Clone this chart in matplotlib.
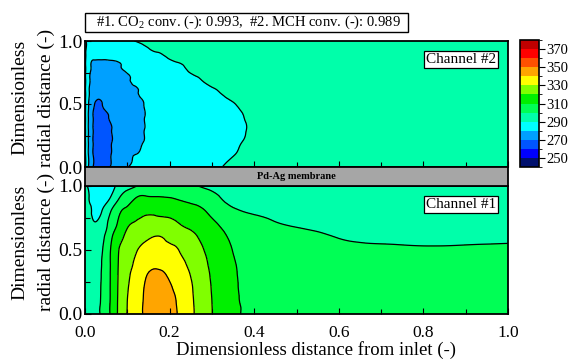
import numpy as np
import matplotlib
matplotlib.use('Agg')
import matplotlib.pyplot as plt
from matplotlib.colors import ListedColormap, BoundaryNorm
from matplotlib.patches import Rectangle
from matplotlib.ticker import MultipleLocator, FixedLocator, FormatStrFormatter
from matplotlib.tri import Triangulation, UniformTriRefiner, CubicTriInterpolator
import matplotlib.cm as cm

plt.rcParams['font.family'] = ['Liberation Serif', 'DejaVu Serif']
plt.rcParams['mathtext.fontset'] = 'custom'
plt.rcParams['mathtext.rm'] = 'Liberation Serif'

# ---------------- data ----------------
x_dist = [0, 0.005, 0.02, 0.04, 0.06, 0.08, 0.10, 0.12, 0.14, 0.17, 0.20,
          0.23, 0.26, 0.30, 0.35, 0.40, 0.50, 0.60, 0.70, 0.80, 0.90, 1.00]
r_dist = [0, 0.1, 0.2, 0.3, 0.4, 0.5, 0.6, 0.7, 0.8, 0.9, 1.0]

# Channel #1 temperature (K): one list per x position, values from r=0 to r=1
temp_ch1 = [
    [295, 295, 295, 295, 295, 295, 295, 295, 294.5, 294, 293],
    [296, 296, 296, 296, 296, 296, 296, 295, 294, 292, 290.2],
    [297.5, 297.5, 297.5, 297.5, 297.3, 297, 296, 291, 288, 286, 285],
    [301.3, 301, 300.8, 300.5, 300.2, 299.4, 298, 295, 290.2, 286.5, 285.5],
    [310.5, 310.4, 310.3, 310.2, 310.1, 309.8, 307.5, 303, 299.5, 290.5, 287.5],
    [321.8, 321.6, 321.3, 321, 320.6, 320, 317, 312, 309, 300, 293],
    [330.5, 330, 329.3, 328.5, 327.3, 324.5, 321.5, 319, 312, 306, 297],
    [336, 335.6, 334.8, 333.3, 331.2, 329, 325, 321, 316, 310.5, 299.5],
    [341, 340.8, 340.2, 338.7, 336, 333, 328, 324, 318, 311.5, 303],
    [348, 347, 345, 342, 338, 334, 330.5, 324, 318, 311, 306],
    [344, 343.5, 341.5, 338.8, 336, 332.5, 328, 323, 317, 310.5, 306],
    [337, 336.6, 335.5, 333.5, 331.3, 328.5, 325, 319.5, 314.5, 309, 304],
    [329.5, 329.2, 328.7, 327.7, 326, 323.5, 321, 317, 312.5, 307.5, 300.7],
    [320.2, 320, 319.6, 319, 318, 316.8, 315, 312, 308, 303.5, 297],
    [311.5, 311.4, 311.2, 311, 310.6, 309.8, 308.5, 306, 301.5, 297, 294],
    [308.5, 308.4, 308.2, 307.8, 307.2, 306.3, 305, 302.5, 299.3, 296.5, 294.5],
    [306.5, 306.4, 306.2, 305.8, 305, 304, 302.5, 299.3, 297.5, 296, 295.5],
    [305.5, 305.4, 305.2, 304.7, 303.8, 302, 299.8, 298, 297, 296.5, 296],
    [304.5, 304.4, 304.1, 303.5, 302.5, 301, 299, 298, 297.2, 296.8, 296.5],
    [304, 303.9, 303.6, 303, 302, 300.6, 298.8, 297.8, 297.2, 297, 296.8],
    [303.8, 303.7, 303.4, 302.8, 301.9, 300.7, 298.9, 297.8, 297.3, 297.1, 297],
    [303.6, 303.5, 303.2, 302.7, 301.9, 300.9, 299.1, 298, 297.5, 297.2, 297],
]

# Channel #2 temperature (K): one list per x position, values from r=0 to r=1
temp_ch2 = [
    [292, 292, 292, 292, 292, 292, 292, 292, 292, 292, 292],
    [284, 284, 284, 284, 284, 284.5, 285, 285.5, 286, 287, 288],
    [269.5, 269.5, 269.5, 269.6, 269.6, 271, 275.5, 277.5, 279, 281.5, 287],
    [266, 266, 266.5, 267, 268, 269.8, 273.5, 277, 279, 281.5, 286.5],
    [270.2, 269.6, 269.3, 269.5, 270.5, 272.5, 275.5, 277.5, 279.2, 281.5, 286.5],
    [274.9, 274, 273.5, 273.5, 274, 275, 276.5, 278, 279.7, 282, 287.5],
    [279.7, 278.5, 277.5, 277.5, 277.5, 278, 279, 279.5, 281, 283, 289],
    [281.5, 280, 279, 278.5, 278.5, 279, 279.7, 280.8, 282.5, 285, 290.2],
    [283, 281.5, 280.2, 279.9, 279.8, 280.1, 281.5, 283, 285, 287.8, 291.5],
    [286, 285, 284.5, 284, 284, 284.5, 285, 286, 287.5, 289.8, 292],
    [287.5, 286.5, 286, 285.5, 285.5, 286, 286.5, 287.5, 289, 290.8, 293],
    [288, 287.5, 287, 286.8, 286.8, 287, 287.5, 288.5, 289.8, 292, 294],
    [288.8, 288.3, 288, 287.8, 287.8, 288, 288.5, 289.6, 291.5, 293, 294.5],
    [289.6, 289.3, 289, 288.8, 288.8, 289, 289.6, 291, 292.5, 294, 295],
    [290.6, 289.9, 289.6, 289.4, 289.5, 289.9, 290.8, 292, 293.3, 294.3, 295],
    [292, 291.3, 290.8, 290.5, 290.7, 291.2, 292, 293, 294, 294.8, 295.5],
    [293.5, 293.2, 293, 292.8, 292.9, 293.2, 293.7, 294.3, 295, 295.5, 296],
    [294.5, 294.3, 294.1, 294, 294, 294.2, 294.6, 295, 295.5, 296, 296.3],
    [295, 294.9, 294.8, 294.7, 294.7, 294.9, 295.2, 295.5, 295.8, 296.2, 296.5],
    [295.5, 295.4, 295.3, 295.2, 295.2, 295.4, 295.6, 295.8, 296.1, 296.4, 296.7],
    [295.8, 295.7, 295.6, 295.5, 295.5, 295.6, 295.8, 296, 296.3, 296.6, 296.8],
    [296, 295.9, 295.8, 295.7, 295.7, 295.8, 296, 296.2, 296.5, 296.7, 297],
]

levels = [240, 250, 260, 270, 280, 290, 300, 310, 320, 330, 340, 350, 360, 370, 380]
level_colors = ['#00106e', '#0000ff', '#0055ff', '#00a0ff', '#00ffff', '#00ffaa',
                '#00ff55', '#00f000', '#80ff00', '#ffff00', '#ffa500', '#ff5000',
                '#ff0000', '#c00000']
cbar_ticks = [250, 270, 290, 310, 330, 350, 370]
r_ticks = [0.0, 0.5, 1.0]
x_ticks = [0.0, 0.2, 0.4, 0.6, 0.8, 1.0]
title_text = '#1. CO$_2$ conv. (-): 0.993,  #2. MCH conv. (-): 0.989'
membrane_text = 'Pd-Ag membrane'
ch_labels = ['Channel #1', 'Channel #2']
xlabel = 'Dimensionless distance from inlet (-)'
ylabel_lines = ['Dimensionless', 'radial distance (-)']

# ---------------- figure ----------------
W, H = 568, 359
fig = plt.figure(figsize=(W / 100, H / 100), dpi=100)


def px_rect(l, t, r, b):
    return [l / W, 1 - b / H, (r - l) / W, (b - t) / H]


ax2 = fig.add_axes(px_rect(85, 41, 508, 167))
ax1 = fig.add_axes(px_rect(85, 186, 508, 314))
cax = fig.add_axes(px_rect(520, 40, 539, 167))
mem = fig.add_axes(px_rect(85, 167, 508, 186))

cmap = ListedColormap(level_colors)
norm = BoundaryNorm(levels, cmap.N)

# structured triangulation of the (x, r) grid, refined smoothly by matplotlib
xa = np.array(x_dist)
ra = np.array(r_dist)
X, R = np.meshgrid(xa, ra)
nx, nr = len(xa), len(ra)
tris = []
for j in range(nr - 1):
    for i in range(nx - 1):
        a = j * nx + i
        b = a + 1
        c = a + nx
        d = c + 1
        tris.append([a, b, d])
        tris.append([a, d, c])
triang = Triangulation(X.ravel(), R.ravel(), np.array(tris))
refiner = UniformTriRefiner(triang)

for ax, data in ((ax1, temp_ch1), (ax2, temp_ch2)):
    Z = np.array(data).T.ravel()
    interp = CubicTriInterpolator(triang, Z, kind='min_E')
    tri_f, z_f = refiner.refine_field(Z, triinterpolator=interp, subdiv=3)
    ax.tricontourf(tri_f, z_f, levels=levels, cmap=cmap, norm=norm)
    ax.tricontour(tri_f, z_f, levels=levels, colors='black', linewidths=0.9)
    ax.set_xlim(0, 1)
    ax.set_ylim(0, 1)
    ax.xaxis.set_major_locator(FixedLocator(x_ticks))
    ax.xaxis.set_minor_locator(MultipleLocator(0.1))
    ax.yaxis.set_major_locator(FixedLocator(r_ticks))
    ax.yaxis.set_minor_locator(MultipleLocator(0.25))
    ax.tick_params(which='both', direction='in', top=False, right=False, width=0.8)
    ax.tick_params(which='major', length=4.5)
    ax.tick_params(which='minor', length=3.5)
    ax.tick_params(axis='y', labelsize=14, pad=2)
    ax.tick_params(axis='x', labelsize=12.5, pad=8)
    ax.yaxis.set_major_formatter(FormatStrFormatter('%.1f'))
    ax.xaxis.set_major_formatter(FormatStrFormatter('%.1f'))
    for s in ax.spines.values():
        s.set_linewidth(1.3)

ax2.tick_params(axis='x', labelbottom=False)

# channel labels
for ax, lab in ((ax1, ch_labels[0]), (ax2, ch_labels[1])):
    ax.text(0.972, 0.855, lab, transform=ax.transAxes, ha='right', va='center',
            fontsize=11, bbox=dict(boxstyle='square,pad=0.12', fc='white', ec='black', lw=0.9))

# membrane band
mem.set_facecolor('#a6a6a6')
mem.set_xticks([])
mem.set_yticks([])
for s in mem.spines.values():
    s.set_linewidth(1.3)
mem.text(0.5, 0.5, membrane_text, transform=mem.transAxes, ha='center', va='center',
         fontsize=7.5, fontweight='bold')

# colorbar
sm = cm.ScalarMappable(norm=norm, cmap=cmap)
cb = fig.colorbar(sm, cax=cax, ticks=cbar_ticks)
cb.outline.set_linewidth(1.2)
cax.tick_params(direction='out', length=4, width=0.8, labelsize=10.5, pad=1.5)

# title box
fig.add_artist(Rectangle((85 / W, 1 - 32 / H), (408 - 85) / W, 19 / H,
                         transform=fig.transFigure, fc='white', ec='black', lw=1.0))
fig.text(96 / W, 1 - 22.5 / H, title_text, ha='left', va='center', fontsize=10.5)

# axis labels
fig.text(316 / W, 1 - 350 / H, xlabel, ha='center', va='center', fontsize=13.5)
for yc in (97.5, 242):
    fig.text(20 / W, 1 - yc / H, ylabel_lines[0], rotation=90, ha='center', va='center', fontsize=14)
    fig.text(46 / W, 1 - yc / H, ylabel_lines[1], rotation=90, ha='center', va='center', fontsize=14)

fig.savefig('out.png', dpi=100)
